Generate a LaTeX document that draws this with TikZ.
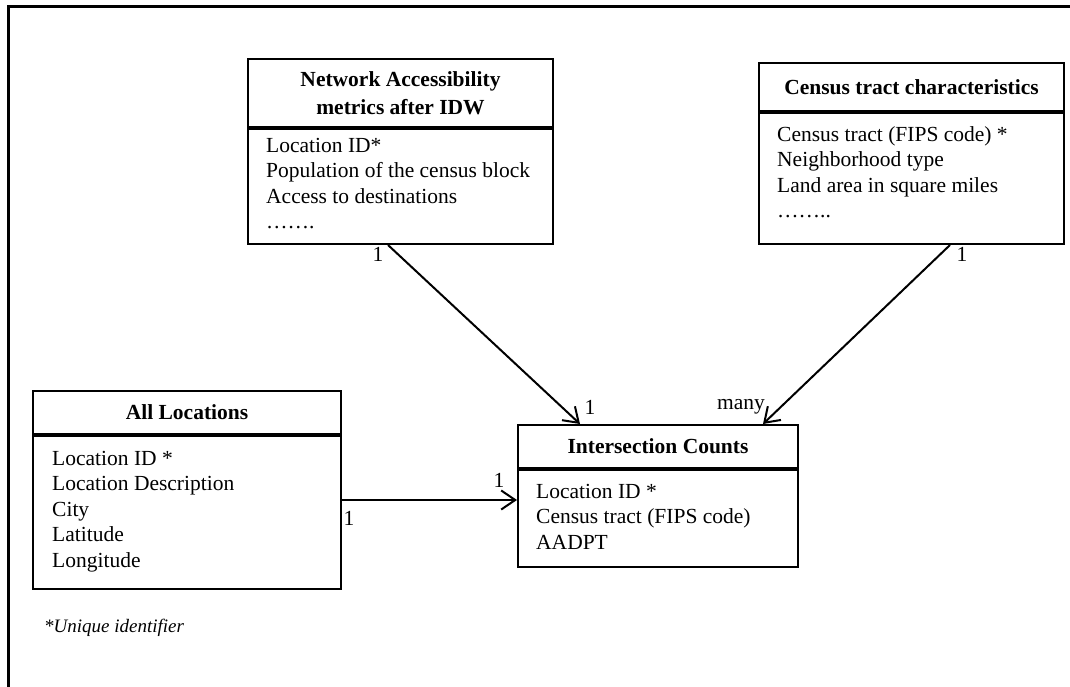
\documentclass[tikz,border=0pt]{standalone}
\usepackage{fontspec}
\setmainfont{Liberation Serif}
\usetikzlibrary{arrows.meta}
\begin{document}
\begin{tikzpicture}[x=1pt, y=-1pt, >={Straight Barb[length=14pt,width=19pt,line width=2pt]}, font=\fontsize{21.5}{25.5}\selectfont]
    \tikzstyle{head}=[draw, line width=2pt, anchor=north west, align=center, inner sep=0pt, font=\fontsize{21.5}{28}\selectfont\bfseries]
    \tikzstyle{body}=[draw, line width=2pt, anchor=north west, inner sep=0pt]
    \tikzstyle{fields}=[anchor=north west, align=left, inner sep=0pt]
    \tikzstyle{link}=[->, line width=2pt]
    \tikzstyle{mult}=[inner sep=0pt]
    \useasboundingbox (0,0) rectangle (1070,687);

    % outer frame
    \coordinate (frame-bl) at (8,687);
    \coordinate (frame-tl) at (8,7);
    \coordinate (frame-tr) at (1070,7);
    \draw [line width=3pt] (frame-bl) -- (frame-tl) -- (frame-tr);

    % draw tables
    \node [head, minimum width=305, minimum height=68] (na-head) at (247,58) {Network Accessibility\\metrics after IDW};
    \node [body, minimum width=305, minimum height=115] (na-body) at (na-head.south west) {};
    \node [fields] (na-fields) at (266,138) {Location ID*\\Population of the census block\\Access to destinations\\……. };

    \node [head, minimum width=305, minimum height=48] (ct-head) at (758,62) {Census tract characteristics};
    \node [body, minimum width=305, minimum height=131] (ct-body) at (ct-head.south west) {};
    \node [fields] (ct-fields) at (777,126) {Census tract (FIPS code) *\\Neighborhood type\\Land area in square miles\\…….. };

    \node [head, minimum width=308, minimum height=43] (al-head) at (32,390) {All Locations};
    \node [body, minimum width=308, minimum height=153] (al-body) at (al-head.south west) {};
    \node [fields] (al-fields) at (52,451) {Location ID *\\Location Description\\City\\Latitude\\Longitude};

    \node [head, minimum width=280, minimum height=43] (ic-head) at (517,424) {Intersection Counts};
    \node [body, minimum width=280, minimum height=97] (ic-body) at (ic-head.south west) {};
    \node [fields] (ic-fields) at (536,484) {Location ID *\\Census tract (FIPS code)\\AADPT};

    \node [anchor=west, inner sep=0pt, font=\fontsize{19}{23}\selectfont\itshape] (note) at (44,628) {*Unique identifier};

    % draw lines
    \draw [link] ([xshift=141pt]na-body.south west) -- ([xshift=63pt]ic-head.north west);
    \draw [link] ([xshift=192pt]ct-body.south west) -- ([xshift=246pt]ic-head.north west);
    \draw [link] ([yshift=12.5pt]al-body.east) -- ([yshift=18.5pt]ic-body.west);

    % draw multiplicities
    \node [mult] (na-one) at (378,254) {1};
    \node [mult] (ic-one-a) at (590,407) {1};
    \node [mult] (ct-one) at (962,254) {1};
    \node [mult] (ic-many) at (741,407) {many};
    \node [mult] (al-one) at (349,518) {1};
    \node [mult] (ic-one-b) at (499,480) {1};
\end{tikzpicture}
\end{document}
